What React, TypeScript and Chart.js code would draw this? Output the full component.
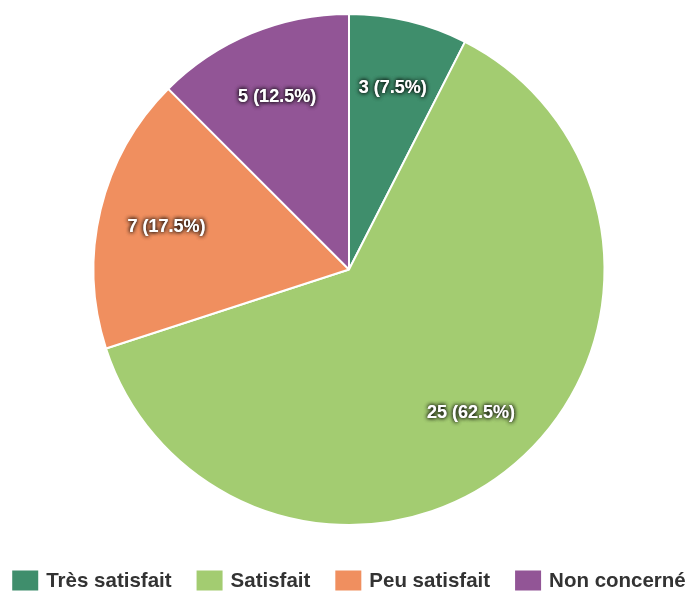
import React, { useEffect, useRef } from "react";
import { Chart, registerables } from "chart.js";

Chart.register(...registerables);

const categories = ["Très satisfait", "Satisfait", "Peu satisfait", "Non concerné"];
const counts = [3, 25, 7, 5];
const colors = ["#3f8e6c", "#a3cc71", "#f08f5f", "#925596"];

const FONT = "'Liberation Sans', Arial, sans-serif";

const labelPlugin = {
  id: "sliceLabels",
  afterDatasetsDraw(chart: any) {
    const ctx = chart.ctx;
    const meta = chart.getDatasetMeta(0);
    const data = chart.data.datasets[0].data as number[];
    const total = data.reduce((a, b) => a + b, 0);
    ctx.save();
    ctx.font = `bold 18px ${FONT}`;
    ctx.textAlign = "center";
    ctx.textBaseline = "middle";
    meta.data.forEach((arc: any, i: number) => {
      const p = arc.getProps(["x", "y", "startAngle", "endAngle", "outerRadius"], true);
      const mid = (p.startAngle + p.endAngle) / 2;
      const r = p.outerRadius * 0.735;
      const x = p.x + Math.cos(mid) * r;
      const y = p.y + Math.sin(mid) * r;
      const pct = ((data[i] / total) * 100).toFixed(1);
      const txt = `${data[i]} (${pct}%)`;
      ctx.shadowColor = "rgba(0,0,0,0.9)";
      ctx.shadowBlur = 4;
      ctx.fillStyle = "#ffffff";
      ctx.fillText(txt, x, y + 1);
      ctx.fillText(txt, x, y + 1);
    });
    ctx.restore();
  },
};

const legendPlugin = {
  id: "customLegend",
  afterDraw(chart: any) {
    const ctx = chart.ctx;
    const labels = chart.data.labels as string[];
    const bg = chart.data.datasets[0].backgroundColor as string[];
    const boxW = 26;
    const boxH = 20;
    const gap = 8;
    const pad = 25;
    ctx.save();
    ctx.font = `bold 20.5px ${FONT}`;
    const widths = labels.map((l) => boxW + gap + ctx.measureText(l).width);
    const total = widths.reduce((a, b) => a + b, 0) + pad * (labels.length - 1);
    const cx = (chart.chartArea.left + chart.chartArea.right) / 2;
    let x = cx - total / 2;
    const cy = 580.5;
    labels.forEach((l, i) => {
      ctx.fillStyle = bg[i];
      ctx.fillRect(x, cy - boxH / 2, boxW, boxH);
      ctx.fillStyle = "#333333";
      ctx.textBaseline = "middle";
      ctx.textAlign = "left";
      ctx.fillText(l, x + boxW + gap, cy + 1);
      x += widths[i] + pad;
    });
    ctx.restore();
  },
};

export default function App() {
  const ref = useRef<HTMLCanvasElement>(null);
  useEffect(() => {
    document.body.style.margin = "0";
    const chart = new Chart(ref.current!, {
      type: "pie",
      data: {
        labels: categories,
        datasets: [
          {
            data: counts,
            backgroundColor: colors,
            borderColor: "#ffffff",
            borderWidth: 2,
          },
        ],
      },
      options: {
        animation: false,
        responsive: false,
        layout: { padding: { top: 13, left: 8, right: 0, bottom: 67 } },
        plugins: {
          tooltip: { enabled: false },
          legend: { display: false },
        },
      },
      plugins: [labelPlugin, legendPlugin],
    });
    return () => chart.destroy();
  }, []);
  return (
    <div style={{ width: 690, height: 593 }}>
      <canvas ref={ref} width={690} height={593} />
    </div>
  );
}
